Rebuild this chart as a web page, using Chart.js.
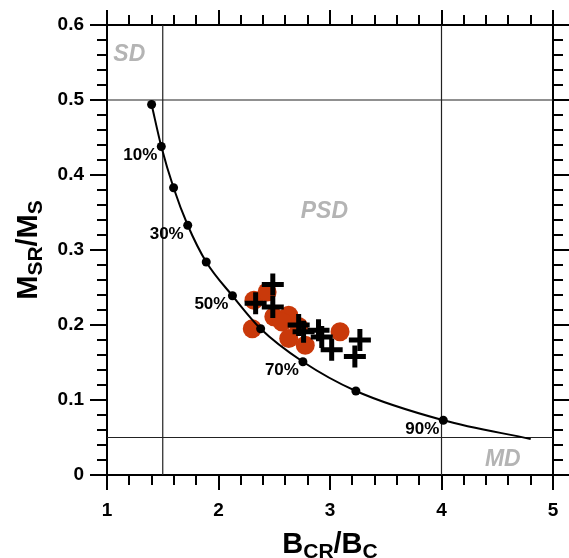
<!DOCTYPE html>
<html>
<head>
<meta charset="utf-8">
<script src="https://cdn.jsdelivr.net/npm/chart.js@4.4.1/dist/chart.umd.min.js"></script>
<style>
    html, body { margin: 0; padding: 0; background: #fff; }
    #wrap { width: 569px; height: 558px; }
</style>
</head>
<body>
<div id="wrap"><canvas id="dayPlot"></canvas></div>
<script>
// SD + MD mixing curve, one dot every 10 %
const mixX = [1.40, 1.487, 1.597, 1.724, 1.89, 2.125, 2.378, 2.757, 3.232, 4.016];
const mixY = [0.494, 0.438, 0.383, 0.333, 0.284, 0.239, 0.195, 0.151, 0.112, 0.073];
const mixLabels = ['', '10%', '', '30%', '', '50%', '', '70%', '', '90%'];
const curveEndX = 4.80;
const curveEndY = 0.048;

// samples (orange circles)
const circleX = [2.318, 2.436, 2.303, 2.496, 2.630, 2.570, 2.630, 2.778, 3.090, 2.719];
const circleY = [0.233, 0.244, 0.195, 0.211, 0.213, 0.204, 0.182, 0.173, 0.191, 0.198];

// samples (black crosses)
const crossX = [2.487, 2.333, 2.487, 2.719, 2.763, 2.897, 2.926, 3.015, 3.268, 3.223];
const crossY = [0.254, 0.229, 0.224, 0.200, 0.191, 0.193, 0.184, 0.167, 0.180, 0.158];

// domain boundaries
const limitsX = [1.5, 4];
const limitsY = [0.5, 0.05];

// axes
const xRange = [1, 5];
const yRange = [0, 0.6];
const xMajor = 1, xMinor = 0.2;
const yMajor = 0.1, yMinor = 0.02;

const regions = [
    { text: 'SD', x: 1.2, y: 0.561 },
    { text: 'PSD', x: 2.95, y: 0.351 },
    { text: 'MD', x: 4.55, y: 0.02 }
];

const FONT = '"Liberation Sans", Arial, sans-serif';

const pts = (xs, ys) => xs.map((x, i) => ({ x, y: ys[i] }));

const curvePts = pts(mixX, mixY).concat([{ x: curveEndX, y: curveEndY }]);

const refLines = [];
limitsX.forEach(v => refLines.push({ x: v, y: yRange[0] }, { x: v, y: yRange[1] }, { x: NaN, y: NaN }));
limitsY.forEach(v => refLines.push({ x: xRange[0], y: v }, { x: xRange[1], y: v }, { x: NaN, y: NaN }));

function drawRich(ctx, parts, mainFont, subFont, drop) {
    let w = 0;
    parts.forEach(([t, sub]) => { ctx.font = sub ? subFont : mainFont; w += ctx.measureText(t).width; });
    let x = -w / 2;
    parts.forEach(([t, sub]) => {
        ctx.font = sub ? subFont : mainFont;
        ctx.fillText(t, x, sub ? drop : 0);
        x += ctx.measureText(t).width;
    });
}

const decorations = {
    id: 'decorations',
    beforeDatasetsDraw(chart) {
        const ctx = chart.ctx;
        const xs = chart.scales.x, ys = chart.scales.y;
        ctx.save();
        ctx.fillStyle = '#b4b4b4';
        ctx.font = 'italic bold 23px ' + FONT;
        ctx.textAlign = 'center';
        ctx.textBaseline = 'middle';
        regions.forEach(r => ctx.fillText(r.text, xs.getPixelForValue(r.x), ys.getPixelForValue(r.y)));
        ctx.restore();
    },
    afterDraw(chart) {
        const ctx = chart.ctx;
        const { left, right, top, bottom } = chart.chartArea;
        const xs = chart.scales.x, ys = chart.scales.y;
        ctx.save();

        // percent labels next to the curve dots
        const dots = chart.getDatasetMeta(1).data;
        ctx.fillStyle = '#000';
        ctx.font = 'bold 17px ' + FONT;
        ctx.textAlign = 'right';
        ctx.textBaseline = 'middle';
        mixLabels.forEach((t, i) => {
            if (t) ctx.fillText(t, dots[i].x - 4, dots[i].y + 9);
        });

        // outward tick marks on all four sides
        ctx.strokeStyle = '#000';
        ctx.lineWidth = 2;
        ctx.beginPath();
        const nx = Math.round((xRange[1] - xRange[0]) / xMinor);
        const per = Math.round(xMajor / xMinor);
        for (let i = 0; i <= nx; i++) {
            const px = Math.round(xs.getPixelForValue(xRange[0] + i * xMinor));
            const len = i % per === 0 ? 15 : 10;
            ctx.moveTo(px, bottom); ctx.lineTo(px, bottom + len);
            ctx.moveTo(px, top); ctx.lineTo(px, top - len);
        }
        const ny = Math.round((yRange[1] - yRange[0]) / yMinor);
        const perY = Math.round(yMajor / yMinor);
        for (let i = 0; i <= ny; i++) {
            const py = Math.round(ys.getPixelForValue(yRange[0] + i * yMinor));
            const len = i % perY === 0 ? 17 : 10;
            ctx.moveTo(left, py); ctx.lineTo(left - len, py);
            ctx.moveTo(right, py); ctx.lineTo(right + len, py);
        }
        ctx.stroke();

        // axis titles with subscripts
        ctx.textAlign = 'left';
        ctx.textBaseline = 'alphabetic';
        const main = 'bold 29px ' + FONT, sub = 'bold 21px ' + FONT;
        ctx.save();
        ctx.translate((left + right) / 2, 553);
        drawRich(ctx, [['B'], ['CR', 1], ['/B'], ['C', 1]], main, sub, 5);
        ctx.restore();
        ctx.save();
        ctx.translate(37, (top + bottom) / 2);
        ctx.rotate(-Math.PI / 2);
        drawRich(ctx, [['M'], ['SR', 1], ['/M'], ['S', 1]], main, sub, 5);
        ctx.restore();

        ctx.restore();
    }
};

function axis(position, range, extra) {
    return Object.assign({
        type: 'linear',
        position,
        min: range[0],
        max: range[1],
        grid: { drawOnChartArea: false, drawTicks: true, tickLength: 12, color: 'rgba(0,0,0,0)' },
        border: { display: true, color: '#000', width: 2 }
    }, extra);
}

// fixed box sizes so the plot area matches the original figure
function fixBox(size) {
    return s => {
        if (s.isHorizontal()) s.height = size; else s.width = size;
        s.paddingLeft = s.paddingRight = s.paddingTop = s.paddingBottom = 0;
    };
}

const tickFont = { family: FONT, size: 19, weight: 'bold' };

new Chart(document.getElementById('dayPlot'), {
    type: 'scatter',
    data: {
        datasets: [
            {
                data: pts(crossX, crossY),
                pointStyle: 'cross',
                pointRadius: 11,
                borderWidth: 5,
                borderColor: '#000',
                backgroundColor: '#000'
            },
            {
                data: pts(mixX, mixY),
                pointRadius: 4.5,
                backgroundColor: '#000',
                borderColor: '#000',
                borderWidth: 0
            },
            {
                data: curvePts,
                showLine: true,
                cubicInterpolationMode: 'monotone',
                borderColor: '#000',
                borderWidth: 2,
                pointRadius: 0
            },
            {
                data: pts(circleX, circleY),
                pointRadius: 9.5,
                backgroundColor: '#c9390a',
                borderColor: '#c9390a',
                borderWidth: 0
            },
            {
                data: refLines,
                showLine: true,
                spanGaps: false,
                borderColor: '#222',
                borderWidth: 1.2,
                pointRadius: 0
            }
        ]
    },
    options: {
        responsive: true,
        maintainAspectRatio: false,
        animation: false,
        events: [],
        layout: { padding: 0 },
        plugins: { legend: { display: false }, tooltip: { enabled: false } },
        scales: {
            x: axis('bottom', xRange, {
                ticks: { stepSize: xMajor, font: tickFont, color: '#000', padding: 12 },
                afterFit: fixBox(83)
            }),
            xTop: axis('top', xRange, {
                ticks: { display: false },
                afterFit: fixBox(25)
            }),
            y: axis('left', yRange, {
                ticks: { stepSize: yMajor, font: tickFont, color: '#000', padding: 11,
                    callback: v => String(+v.toFixed(1)) },
                afterFit: fixBox(107)
            }),
            yRight: axis('right', yRange, {
                ticks: { display: false },
                afterFit: fixBox(13)
            })
        }
    },
    plugins: [decorations]
});
</script>
</body>
</html>
